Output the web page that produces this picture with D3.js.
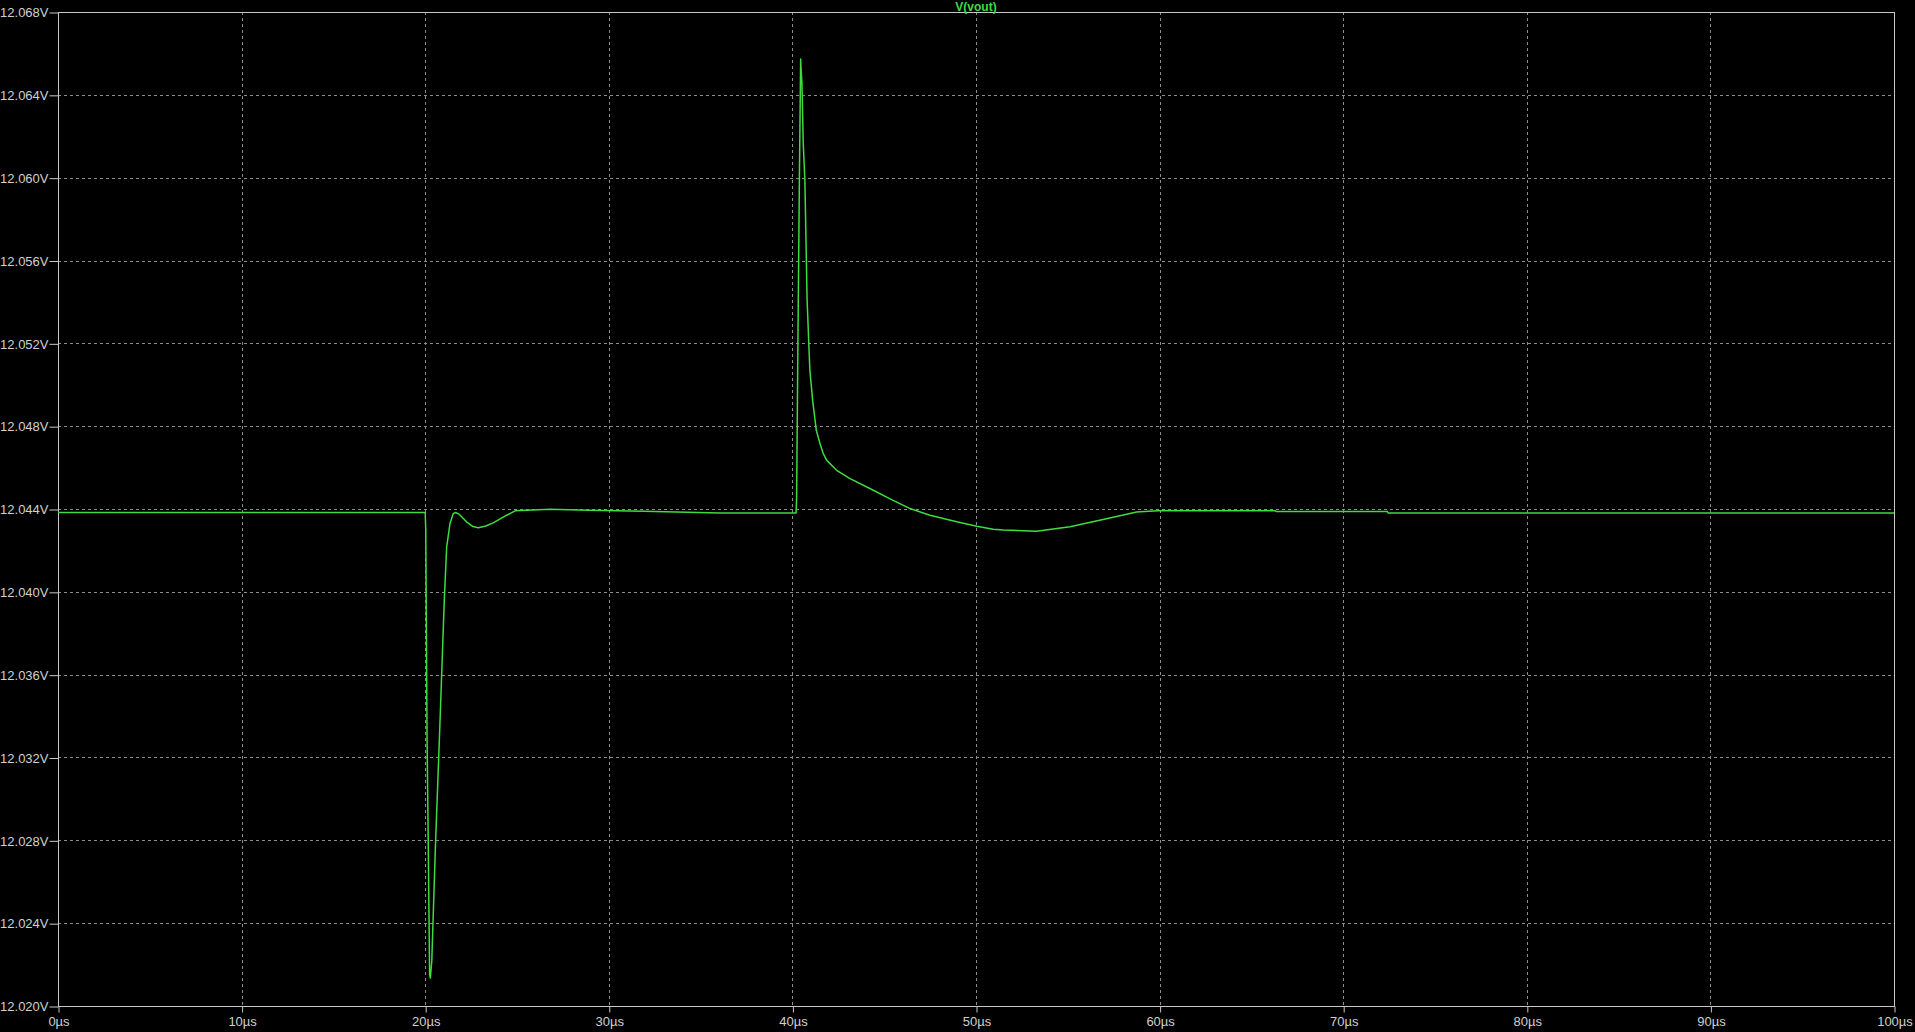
<!DOCTYPE html>
<html>
<head>
<meta charset="utf-8">
<script src="https://cdn.jsdelivr.net/npm/d3@7"></script>
<style>
html,body{margin:0;padding:0;background:#000;}
svg{display:block;}
</style>
</head>
<body>
<script>
// Time in µs
const timeUs = [0, 20.00, 20.03, 20.10, 20.17, 20.24, 20.28, 20.36, 20.55, 20.80, 21.04, 21.17, 21.35, 21.53, 21.65, 21.85, 22.25, 22.6, 22.9, 23.3, 23.7, 24.44, 24.9, 26.8, 28.9, 31.9, 36.05, 40.20,
  40.23, 40.30, 40.38, 40.45, 40.47, 40.52, 40.59, 40.68, 40.80, 40.95, 41.10, 41.30, 41.5, 41.68, 41.86, 42.41, 43.14, 44.22, 45.32, 46.41, 47.49, 48.95, 50.04, 50.94, 51.5, 53.3, 55.12, 56.92, 58.75, 59.9, 66.3, 66.35, 72.4, 72.45, 100];
// V(vout) in volts
const vout = [12.04383, 12.04383, 12.0430, 12.0330, 12.0275, 12.0215, 12.02135, 12.0222, 12.02754, 12.03357, 12.03961, 12.04217, 12.0433, 12.04378, 12.04383, 12.04375, 12.04338, 12.04315, 12.04309, 12.04318, 12.04333, 12.0437, 12.04391, 12.04399, 12.04394, 12.04389, 12.04381, 12.04381,
  12.0445, 12.0520, 12.0599, 12.06573, 12.06529, 12.06457, 12.06167, 12.05988, 12.05411, 12.05073, 12.04926, 12.04781, 12.04716, 12.04668, 12.04636, 12.04587, 12.04547, 12.04499, 12.04449, 12.04402, 12.0437, 12.04338, 12.04317, 12.04302, 12.04298, 12.04293, 12.04314, 12.04349, 12.04386, 12.04391, 12.04391, 12.04388, 12.04388, 12.04381, 12.04381];

const xTicks = [0, 10, 20, 30, 40, 50, 60, 70, 80, 90, 100];
const xTickLabels = ["0µs", "10µs", "20µs", "30µs", "40µs", "50µs", "60µs", "70µs", "80µs", "90µs", "100µs"];
const yTicks = [12.020, 12.024, 12.028, 12.032, 12.036, 12.040, 12.044, 12.048, 12.052, 12.056, 12.060, 12.064, 12.068];
const yTickLabels = ["12.020V", "12.024V", "12.028V", "12.032V", "12.036V", "12.040V", "12.044V", "12.048V", "12.052V", "12.056V", "12.060V", "12.064V", "12.068V"];
const traceName = "V(vout)";

const W = 1915, H = 1032;
const m = {left: 58, top: 12, right: 21, bottom: 26};
const pw = W - m.left - m.right, ph = H - m.top - m.bottom;

const svg = d3.select("body").append("svg").attr("width", W).attr("height", H)
  .style("background", "#000");

const x = d3.scaleLinear().domain([0, 100]).range([m.left, m.left + pw]);
const y = d3.scaleLinear().domain([12.020, 12.068]).range([m.top + ph, m.top]);

const gridCol = "#8c8c8c", axisCol = "#c8c8c8", textCol = "#d0d0d0";
const font = "'Liberation Sans', Arial, sans-serif";

// grid
const g = svg.append("g");
g.selectAll(".vg").data(xTicks.slice(1, -1)).join("line")
  .attr("x1", d => Math.round(x(d)) + 0.5).attr("x2", d => Math.round(x(d)) + 0.5)
  .attr("y1", m.top).attr("y2", m.top + ph)
  .attr("stroke", gridCol).attr("stroke-width", 1).attr("stroke-dasharray", "3,3");
g.selectAll(".hg").data(yTicks.slice(1, -1)).join("line")
  .attr("y1", d => Math.round(y(d)) + 0.5).attr("y2", d => Math.round(y(d)) + 0.5)
  .attr("x1", m.left).attr("x2", m.left + pw)
  .attr("stroke", gridCol).attr("stroke-width", 1).attr("stroke-dasharray", "3,3");

// frame
svg.append("rect").attr("x", m.left + 0.5).attr("y", m.top + 0.5)
  .attr("width", pw).attr("height", ph)
  .attr("fill", "none").attr("stroke", axisCol).attr("stroke-width", 1);

// axes
const xAxis = d3.axisBottom(x).tickValues(xTicks).tickSize(6).tickPadding(4)
  .tickFormat((d, i) => xTickLabels[i]);
const xa = svg.append("g").attr("transform", `translate(0.5,${m.top + ph + 0.5})`).call(xAxis);
xa.select(".domain").remove();
xa.selectAll("line").attr("stroke", axisCol);
xa.selectAll("text").attr("fill", textCol).style("font-family", font).style("font-size", "13px");

const yAxis = d3.axisLeft(y).tickValues(yTicks).tickSize(9).tickPadding(1)
  .tickFormat((d, i) => yTickLabels[i]);
const ya = svg.append("g").attr("transform", `translate(${m.left + 0.5},0.5)`).call(yAxis);
ya.select(".domain").remove();
ya.selectAll("line").attr("stroke", axisCol);
ya.selectAll("text").attr("fill", textCol).style("font-family", font).style("font-size", "13px");

// trace
const data = timeUs.map((t, i) => [t, vout[i]]);
svg.append("path").datum(data)
  .attr("d", d3.line().x(d => x(d[0])).y(d => y(d[1])))
  .attr("fill", "none").attr("stroke", "#3fdc3f").attr("stroke-width", 1.5)
  .attr("stroke-linejoin", "round");

// title
svg.append("text").attr("x", m.left + pw / 2).attr("y", 11)
  .attr("text-anchor", "middle").attr("fill", "#3fdc3f")
  .style("font-family", font).style("font-size", "12px").style("font-weight", "bold")
  .text(traceName);
</script>
</body>
</html>
